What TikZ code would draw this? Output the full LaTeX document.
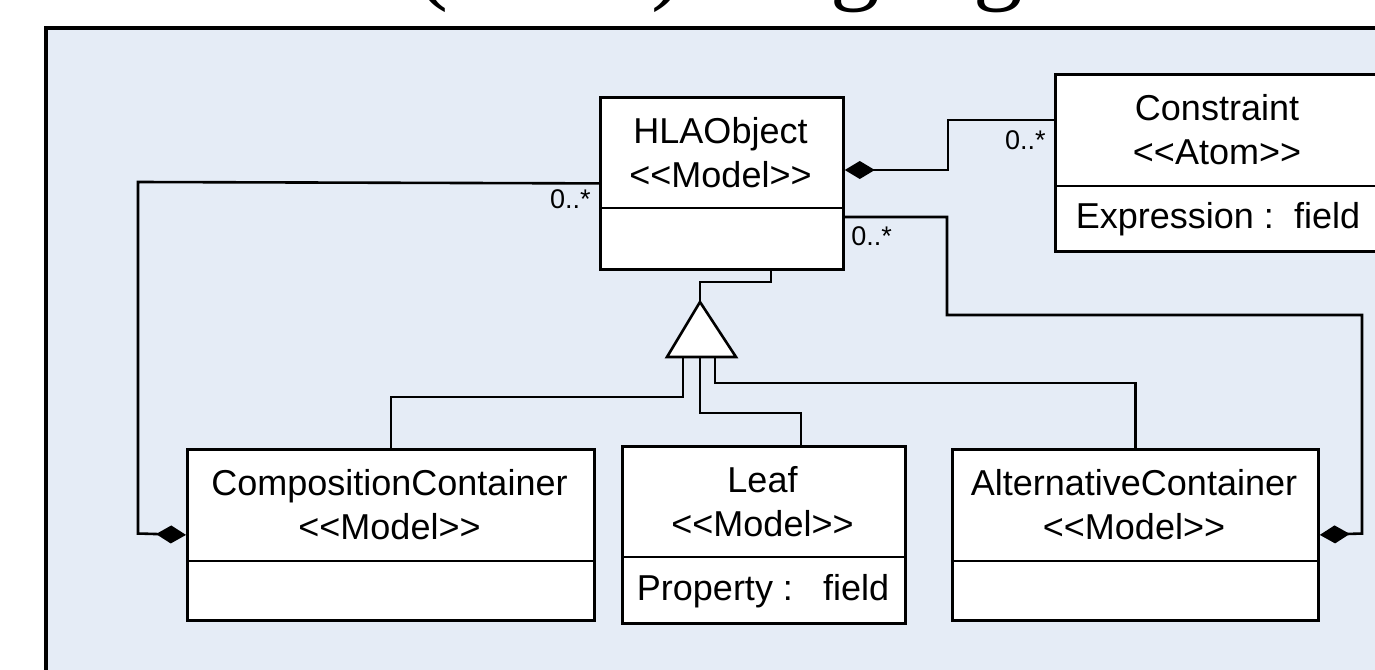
\documentclass[tikz,border=0pt]{standalone}
\usepackage{fontspec}
\setmainfont{Liberation Sans}
\newfontfamily\titleserif{Liberation Serif}
\usetikzlibrary{arrows.meta}
\definecolor{panelblue}{RGB}{229,236,246}
% stereotype brackets; the kerns keep << and >> from turning into guillemets
\newcommand\stype[1]{<\kern0pt<#1>\kern0pt>}

\begin{document}
\begin{tikzpicture}[x=0.5pt,y=-0.5pt,
  line join=miter,
  classbox/.style={draw, line width=1.4pt, fill=white, rectangle, inner sep=0pt, anchor=north west},
  sepline/.style={line width=1.4pt},
  classname/.style={align=center, font=\fontsize{18}{22}\selectfont, inner sep=0pt},
  attr/.style={font=\fontsize{18}{22}\selectfont, inner sep=0pt},
  mult/.style={font=\fontsize{13.5}{16}\selectfont, inner sep=0pt},
  link/.style={draw, line width=1.3pt},
  agg/.style={link, -{Diamond[length=15pt,width=9pt]}},
  aggstart/.style={link, {Diamond[length=15pt,width=9pt]}-},
]
\useasboundingbox (0,0) rectangle (1375,669);

% heading above the panel
\node[anchor=base west, inner sep=0pt, font=\titleserif\fontsize{49.5}{55}\selectfont]
  (title) at (415,-8.6) {(HLA) language};

% panel
\draw[line width=2pt, fill=panelblue] (46,28) rectangle (1450,760);

% classes
\node[classbox, minimum width=121.5pt, minimum height=86pt] (hla) at (599,96) {};
\draw[sepline] (hla.west |- 0,208) -- (hla.east |- 0,208);

\node[classbox, minimum width=163pt, minimum height=88.5pt] (con) at (1054,73) {};
\draw[sepline] (con.west |- 0,186) -- (con.east |- 0,186);

\node[classbox, minimum width=203.5pt, minimum height=85.5pt] (comp) at (186,448) {};
\draw[sepline] (comp.west |- 0,561) -- (comp.east |- 0,561);

\node[classbox, minimum width=141.5pt, minimum height=88.5pt] (leaf) at (621,445) {};
\draw[sepline] (leaf.west |- 0,557) -- (leaf.east |- 0,557);

\node[classbox, minimum width=183pt, minimum height=85.5pt] (alt) at (951,448) {};
\draw[sepline] (alt.west |- 0,561) -- (alt.east |- 0,561);

% class names and attributes
\node[classname] (hlaname) at (720.5,153) {HLAObject\\\stype{Model}};
\node[classname] (conname) at (1217,130) {Constraint\\\stype{Atom}};
\node[attr] (conattr) at (1218,219) {Expression :\ \ field};
\node[classname] (compname) at (389.5,505) {CompositionContainer\\\stype{Model}};
\node[classname] (leafname) at (762.5,502) {Leaf\\\stype{Model}};
\node[attr] (leafattr) at (763,591) {Property :\ \ \ field};
\node[classname] (altname) at (1134,505) {AlternativeContainer\\\stype{Model}};

% aggregations
\draw[agg] (hla.west) -- (138,182) -- (138,533.5) -- (comp.west);
\draw[agg] (hla.east |- 0,217) -- (947,217) -- (947,315) -- (1362,315)
  -- (1362,533.5) -- (alt.east);
\draw[aggstart] (hla.east |- 0,170) -- (948,170) -- (948,120) -- (con.west |- 0,120);

% multiplicities
\node[mult, anchor=east] (m1) at (591,199) {0..*};
\node[mult, anchor=west] (m2) at (851,236) {0..*};
\node[mult, anchor=east] (m3) at (1046,140) {0..*};

% generalization
\coordinate (gtop) at (700,302);
\draw[link] (hla.south -| 771,0) -- (771,282) -| (gtop);
\draw[link] (683,357) -- (683,397) -| (comp.north);
\draw[link] (700,357) -- (700,413) -| (leaf.north -| 801,0);
\draw[link] (715,357) -- (715,383) -| (alt.north);
\draw[link, fill=white] (gtop) -- (667,357) -- (736,357) -- cycle;
\end{tikzpicture}
\end{document}
